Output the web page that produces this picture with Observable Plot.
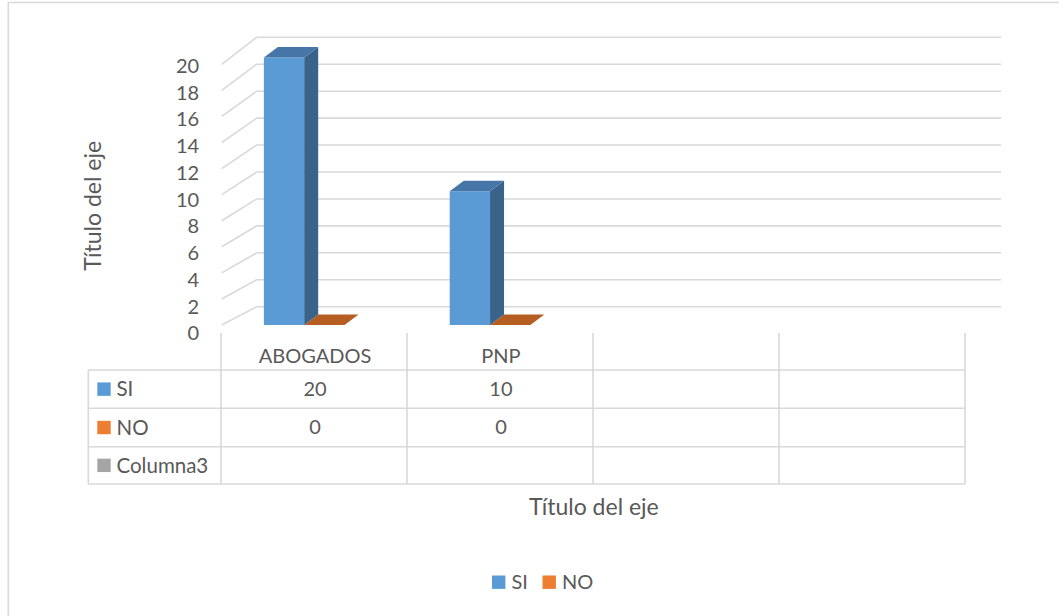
<!DOCTYPE html>
<html><head><meta charset="utf-8">
<script src="https://cdn.jsdelivr.net/npm/d3@7"></script>
<script src="https://cdn.jsdelivr.net/npm/@observablehq/plot@0.6"></script>
<style>body{margin:0;background:#fff}#chart{width:1059px;height:616px}</style>
</head><body><div id="chart"></div>
<script>
// ---- data ----
const categories = ["ABOGADOS", "PNP", "", ""];
const siValues = [20, 10, null, null];
const noValues = [0, 0, null, null];
const col3Values = [null, null, null, null];
const seriesNames = ["SI", "NO", "Columna3"];
const seriesColors = ["#5B9BD5", "#ED7D31", "#A5A5A5"];
const legendNames = ["SI", "NO"];
const yTicks = [0, 2, 4, 6, 8, 10, 12, 14, 16, 18, 20];
const axisTitle = "Título del eje";

// ---- styling ----
const TXT = "#595959", GRID = "#D9D9D9";
const shades = {
  SI: {front: "#5B9BD5", side: "#3A638A", top: "#4676A8"},
  NO: {front: "#ED7D31", side: "#9E5020", top: "#B65E22"}
};
const slot = {SI: [0.227, 0.444], NO: [0.444, 0.661]};
const DX = 14, DY = -10.5;           // bar depth
const WX = 35, WY = -18.3;           // wall depth

const bars = [];
categories.forEach((c, i) => {
  if (noValues[i] != null) bars.push({i, series: "NO", value: noValues[i]});
  if (siValues[i] != null) bars.push({i, series: "SI", value: siValues[i]});
});
const seriesRows = [siValues, noValues, col3Values];

const poly = (g, pts, fill) => g.append("path").attr("d", "M" + pts.map(p => p.join(",")).join("L") + "Z").attr("fill", fill);

const chart = Plot.plot({
  width: 1059, height: 616,
  marginLeft: 221.7, marginRight: 94, marginTop: 57.6, marginBottom: 291,
  style: {fontFamily: "Lato, 'Open Sans', sans-serif", fontSize: "20px", color: TXT, background: "#fff"},
  x: {domain: [0, categories.length], axis: null},
  y: {domain: [0, 20], axis: null},
  marks: [
    // back wall gridlines + side-wall diagonals
    Plot.ruleY(yTicks, {y: d => d, render(index, scales, values) {
      const g = d3.create("svg:g").attr("fill", "none").attr("stroke", GRID).attr("stroke-width", 1.6);
      const y0 = scales.y(0), xa = scales.x(0), xe = scales.x(categories.length) + WX + 1;
      for (const i of index) {
        const yv = values.y[i];
        const f = y0 - (y0 - yv) * 0.975;
        const b = y0 + WY - (y0 - yv) * 1.0075;
        g.append("path").attr("d", `M${xa},${f}L${xa + WX},${b}L${xe},${b}`);
      }
      return g.node();
    }}),
    // data table grid, row headers, legend, border
    Plot.ruleX(d3.range(categories.length + 1), {x: d => d, render(index, scales, values, dims) {
      const g = d3.create("svg:g").attr("text-anchor", "start");
      const y0 = scales.y(0), xs = index.map(i => values.x[i]);
      const xl = 88.3, xr = xs[xs.length - 1];
      const rowsY = [45, 83.3, 121.7, 159].map(d => y0 + d);
      const ln = g.append("g").attr("stroke", GRID).attr("stroke-width", 1.6).attr("fill", "none");
      xs.forEach(x => ln.append("line").attr("x1", x).attr("x2", x).attr("y1", y0 + 8).attr("y2", rowsY[3]));
      ln.append("line").attr("x1", xl).attr("x2", xl).attr("y1", rowsY[0]).attr("y2", rowsY[3]);
      rowsY.forEach(y => ln.append("line").attr("x1", xl).attr("x2", xr).attr("y1", y).attr("y2", y));
      // outer chart border (top + left)
      ln.append("path").attr("d", `M8.3,${dims.height}L8.3,2.5L${dims.width},2.5`);
      // row headers
      seriesNames.forEach((s, k) => {
        const cy = (rowsY[k] + rowsY[k + 1]) / 2;
        g.append("rect").attr("x", 97.3).attr("y", cy - 6.7).attr("width", 13.4).attr("height", 13.4).attr("fill", seriesColors[k]);
        g.append("text").attr("x", 116.5).attr("y", cy).attr("dy", "0.35em").attr("text-anchor", "start").attr("fill", TXT).attr("font-size", 20.5).text(s);
      });
      // legend
      let lx = 492;
      legendNames.forEach((s, k) => {
        g.append("rect").attr("x", lx).attr("y", 575.5).attr("width", 13.4).attr("height", 13.4).attr("fill", seriesColors[k]);
        g.append("text").attr("x", lx + 19.5).attr("y", 582.2).attr("dy", "0.35em").attr("text-anchor", "start").attr("fill", TXT).text(s);
        lx += 50.5;
      });
      return g.node();
    }}),
    // 3D columns
    Plot.rect(bars, {
      x1: d => d.i + slot[d.series][0], x2: d => d.i + slot[d.series][1], y1: 0, y2: d => d.value,
      render(index, scales, values) {
        const g = d3.create("svg:g");
        for (const i of index) {
          const c = shades[bars[i].series];
          const x1 = values.x1[i], x2 = values.x2[i];
          const yb = Math.max(values.y1[i], values.y2[i]), yt = Math.min(values.y1[i], values.y2[i]);
          if (yb - yt > 0.5) {
            poly(g, [[x1, yt], [x2, yt], [x2, yb], [x1, yb]], c.front);
            poly(g, [[x2, yt], [x2 + DX, yt + DY], [x2 + DX, yb + DY], [x2, yb]], c.side);
          }
          poly(g, [[x1, yt], [x1 + DX, yt + DY], [x2 + DX, yt + DY], [x2, yt]], c.top);
        }
        return g.node();
      }
    }),
    // y axis labels
    Plot.axisY(yTicks, {tickSize: 0, tickPadding: 23, dy: 8.5, label: null, fontSize: 20, fill: TXT}),
    // table header (categories)
    Plot.text(categories, {x: (d, i) => i + 0.5, text: d => d, frameAnchor: "bottom", lineAnchor: "middle", dy: 31, fill: TXT}),
    // table values
    ...seriesRows.map((vals, k) => Plot.text(vals.map((v, i) => ({v, i})).filter(d => d.v != null),
      {x: d => d.i + 0.5, text: d => String(d.v), frameAnchor: "bottom", lineAnchor: "middle", dy: 64 + k * 38.3, fill: TXT})),
    // axis titles
    Plot.text([axisTitle], {x: categories.length / 2, text: d => d, frameAnchor: "bottom", lineAnchor: "middle", dy: 182, fontSize: 23, fill: TXT}),
    Plot.text([axisTitle], {text: d => d, frameAnchor: "left", textAnchor: "middle", lineAnchor: "middle", dx: -128.7, dy: 14, rotate: -90, fontSize: 23, fill: TXT})
  ]
});
document.getElementById("chart").append(chart);
</script>
</body></html>
